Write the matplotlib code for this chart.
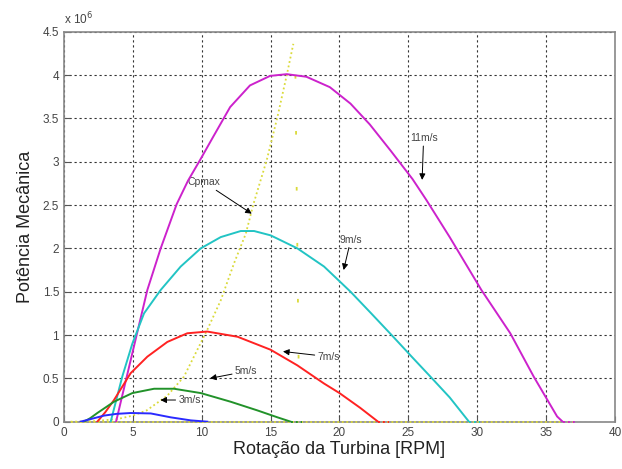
import matplotlib
matplotlib.use('Agg')
import matplotlib.pyplot as plt
import numpy as np

plt.rcParams['font.family'] = ['Liberation Sans', 'DejaVu Sans']

# potencia em unidades de 1e6, rotacao em RPM
rpm_11 = [3.78, 4.96, 6.05, 7.02, 8.18, 9.0, 9.88, 10.84, 12.06, 13.5, 14.96,
          16.17, 17.6, 19.3, 20.8, 22.2, 23.7, 25.3, 26.3, 28.0, 30.3, 32.4, 34.1, 35.8, 36.2]
pot_11 = [0, 0.79, 1.52, 2.0, 2.51, 2.78, 3.02, 3.29, 3.63, 3.88, 3.99,
          4.01, 3.98, 3.86, 3.67, 3.43, 3.13, 2.80, 2.56, 2.13, 1.52, 1.02, 0.52, 0.06, 0]

rpm_9 = [3.39, 4.23, 4.96, 5.81, 7.02, 8.47, 9.93, 11.38, 12.83, 13.8, 15.0, 16.94, 18.88,
         20.8, 22.3, 23.9, 25.3, 26.6, 28.0, 29.4]
pot_9 = [0, 0.52, 0.90, 1.25, 1.52, 1.79, 2.0, 2.13, 2.20, 2.20, 2.15, 2.0, 1.79,
         1.50, 1.25, 0.98, 0.74, 0.52, 0.28, 0]

rpm_7 = [2.42, 3.0, 3.63, 4.84, 6.05, 7.5, 8.95, 10.4, 12.6, 15.0, 16.94, 18.88, 20.0, 21.5, 22.8]
pot_7 = [0, 0.11, 0.25, 0.56, 0.75, 0.92, 1.02, 1.04, 0.98, 0.83, 0.65, 0.44, 0.33, 0.16, 0]

rpm_5 = [1.45, 1.9, 2.42, 3.63, 4.96, 6.54, 7.99, 9.93, 12.1, 14.04, 15.5, 16.46]
pot_5 = [0, 0.04, 0.10, 0.23, 0.33, 0.38, 0.38, 0.33, 0.23, 0.13, 0.05, 0]

rpm_3 = [1.2, 1.94, 2.9, 3.8, 4.84, 6.3, 7.75, 9.2, 10.4]
pot_3 = [0, 0.03, 0.07, 0.09, 0.10, 0.095, 0.05, 0.015, 0]

rpm_cp = [0.48, 2.0, 3.87, 5.0, 6.0, 7.5, 8.71, 9.68, 10.4, 11.38, 12.35, 13.2, 13.75,
          14.72, 15.5, 16.2, 16.65]
pot_cp = [0, 0.003, 0.03, 0.07, 0.13, 0.3, 0.52, 0.83, 1.06, 1.40, 1.83, 2.17, 2.51,
          3.02, 3.52, 4.02, 4.36]

rpm_lim = [16.8, 17.05]
pot_lim = [4.0, 0.45]

# fim das curvas (trechos em zero)
tails = {'11': (36.2, 37.2), '9': (29.4, 30.2), '7': (22.8, 23.6), '5': (16.46, 17.3)}

cor_11 = '#cc22cc'
cor_9 = '#22c4c4'
cor_7 = '#ff2222'
cor_5 = '#22922a'
cor_3 = '#2a2aff'
cor_cp = '#dada3a'

fig = plt.figure(figsize=(6.22, 4.69), dpi=100)
ax = fig.add_axes([0.1029, 0.1009, 0.8858, 0.8315])

ax.plot([0.48, 37.2], [0, 0], color=cor_cp, lw=1.3, ls=(0, (1, 1.5)), zorder=3, clip_on=False)
ax.plot(rpm_cp, pot_cp, color=cor_cp, lw=1.3, ls=(0, (1, 1.5)), zorder=3)
ax.plot(rpm_lim, pot_lim, color=cor_cp, lw=1.3, ls=(0, (2, 29)), zorder=3)

ax.plot(rpm_11, pot_11, color=cor_11, lw=1.4, zorder=4)
ax.plot(rpm_9, pot_9, color=cor_9, lw=1.4, zorder=4)
ax.plot(rpm_7, pot_7, color=cor_7, lw=1.4, zorder=4)
ax.plot(rpm_5, pot_5, color=cor_5, lw=1.4, zorder=4)
ax.plot(rpm_3, pot_3, color=cor_3, lw=1.4, zorder=4)
for k, c in zip(['11', '9', '7', '5'], [cor_11, cor_9, cor_7, cor_5]):
    ax.plot(tails[k], [0, 0], color=c, lw=1.4, ls=(0, (1, 1.5)), zorder=4, clip_on=False)

ax.set_xlim(0, 40)
ax.set_ylim(0, 4.5)
ax.set_xticks(np.arange(0, 41, 5))
ax.set_yticks(np.arange(0, 4.51, 0.5))
ax.set_yticklabels(['0', '0.5', '1', '1.5', '2', '2.5', '3', '3.5', '4', '4.5'])
ax.grid(True, color='#333333', ls=(0, (2, 2.5)), lw=0.8)
ax.tick_params(direction='in', length=4, labelsize=8.5, labelcolor='#444444', color='#555555')
for s in ax.spines.values():
    s.set_color('#888888')
    s.set_linewidth(1.2)

ax.set_xlabel('Rotação da Turbina [RPM]', fontsize=13, color='#222222', labelpad=2)
ax.set_ylabel('Potência Mecânica', fontsize=13, color='#222222', labelpad=6)
ax.text(0.0, 1.012, r'x 10$^6$', transform=ax.transAxes, fontsize=8.5, color='#444444',
        ha='left', va='bottom')

arr = dict(arrowstyle='-|>', color='black', lw=0.7, mutation_scale=9, shrinkA=0, shrinkB=0)
txt = dict(fontsize=7.5, color='#444444', va='center')
ax.annotate('Cpmax', xy=(13.63, 2.40), xytext=(9.0, 2.76), arrowprops=arr, ha='left', **txt)
ax.annotate('11m/s', xy=(26.0, 2.79), xytext=(25.1, 3.27), arrowprops=arr, ha='left', **txt)
ax.annotate('9m/s', xy=(20.3, 1.75), xytext=(20.0, 2.10), arrowprops=arr, ha='left', **txt)
ax.annotate('7m/s', xy=(15.9, 0.81), xytext=(18.4, 0.75), arrowprops=arr, ha='left', **txt)
ax.annotate('5m/s', xy=(10.6, 0.50), xytext=(12.4, 0.58), arrowprops=arr, ha='left', **txt)
ax.annotate('3m/s', xy=(7.0, 0.25), xytext=(8.3, 0.25), arrowprops=arr, ha='left', **txt)

fig.savefig('out.png', dpi=100)
